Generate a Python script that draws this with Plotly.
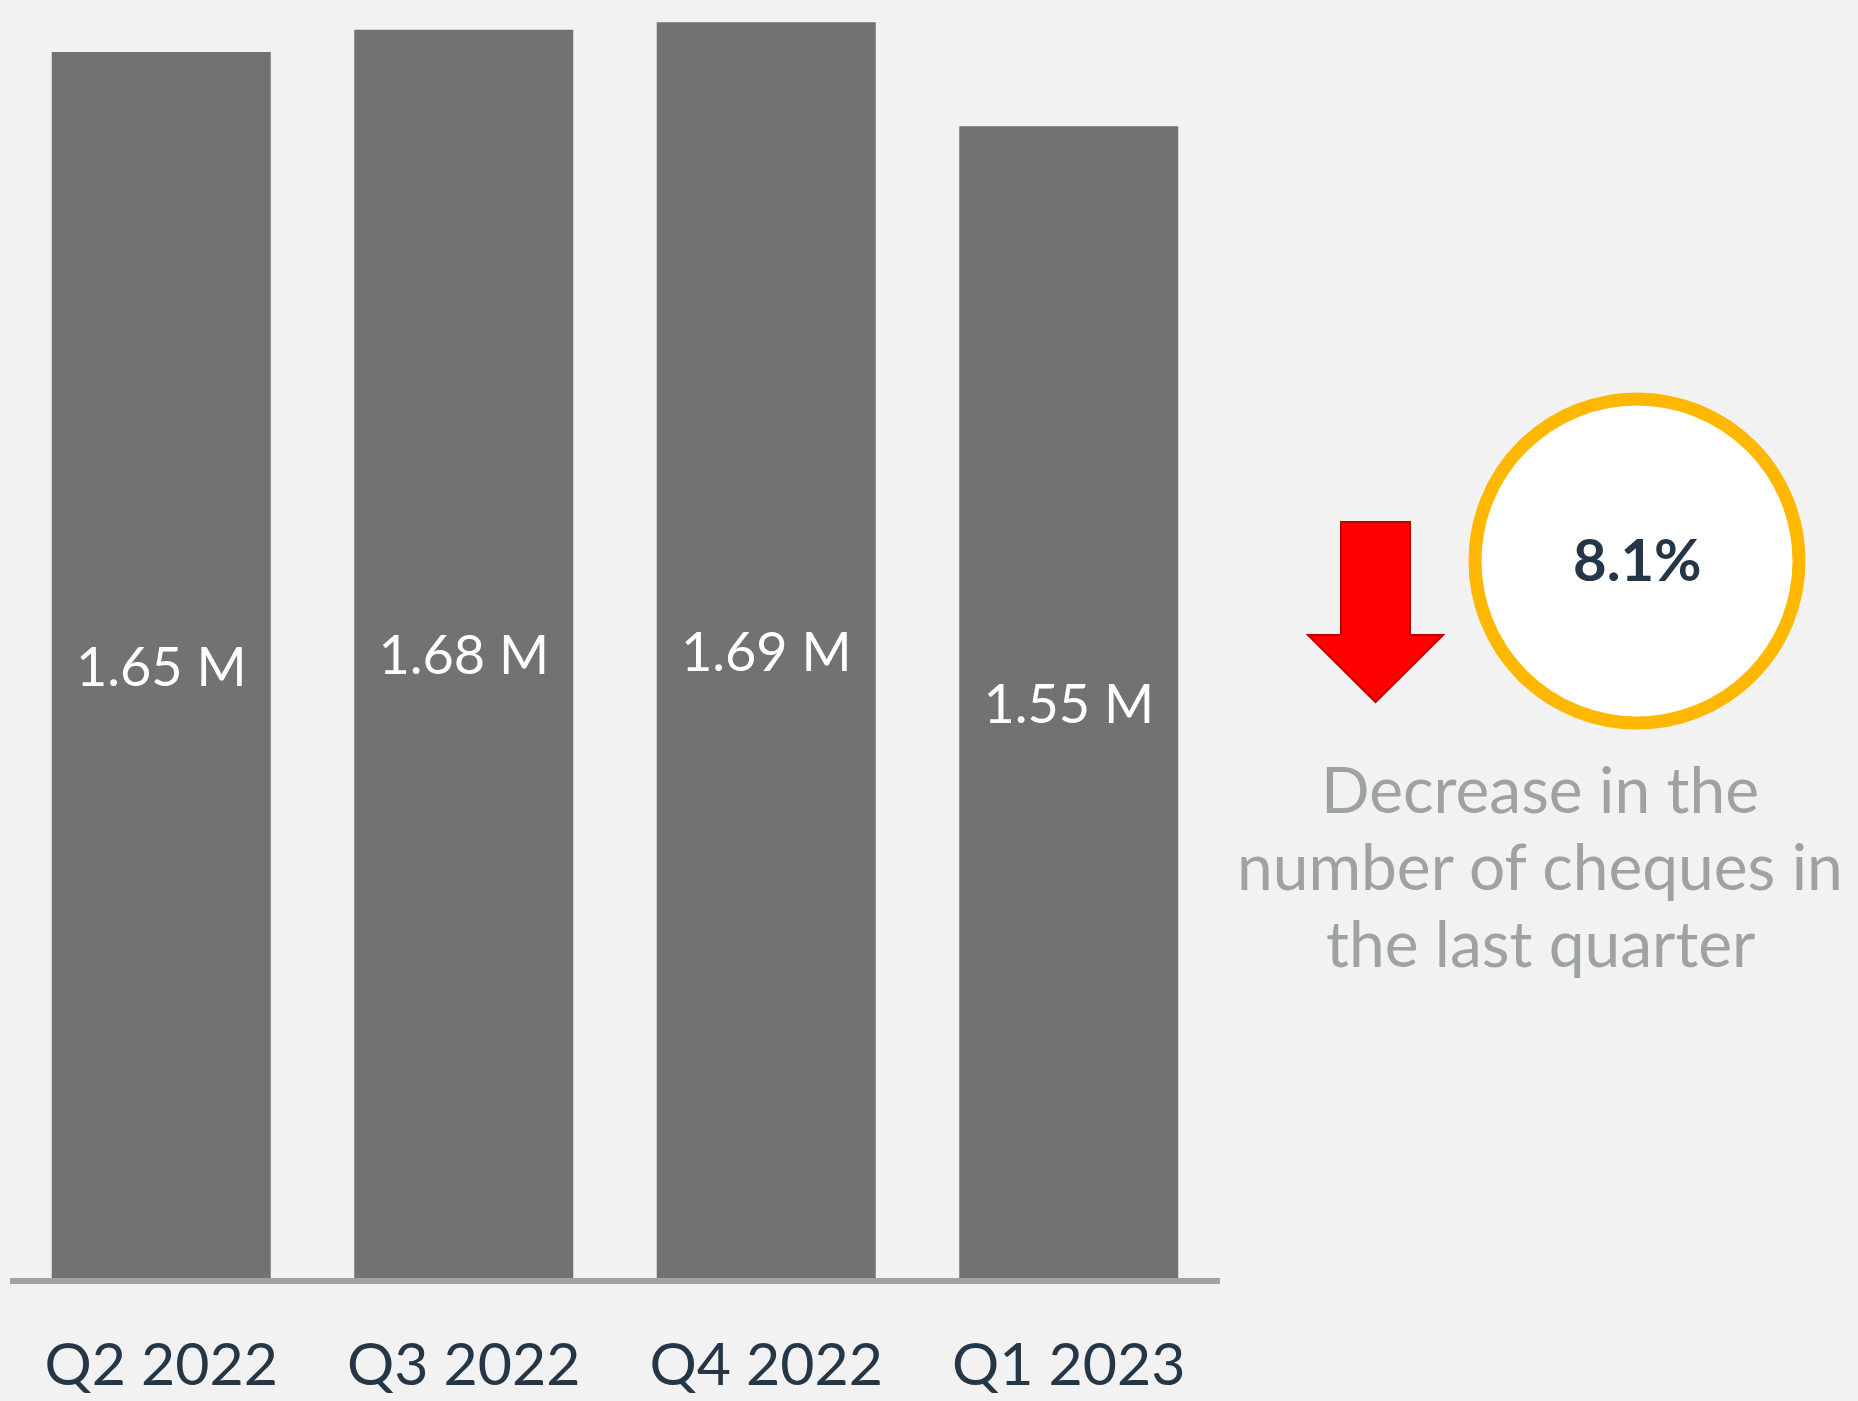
import plotly.graph_objects as go

# data
quarters = ["Q2 2022", "Q3 2022", "Q4 2022", "Q1 2023"]
cheques_m = [1.65, 1.68, 1.69, 1.55]
value_labels = ["1.65 M", "1.68 M", "1.69 M", "1.55 M"]
change_label = "8.1%"
change_lines = ["Decrease in the", "number of cheques in", "the last quarter"]

BG = "#f2f2f2"
OFF = 8  # page body margin, the figure starts 8px into the window
W, H = 1858 - OFF, 1401 - OFF
# plot area in window pixels
L, R, T, B = 10, 1220, OFF, 1278
PX_PER_M = 743

def px(x):  # window pixel -> paper x
    return (x - L) / (R - L)

def py(y):  # window pixel -> paper y
    return (B - y) / (B - T)

fig = go.Figure()
fig.add_trace(go.Bar(
    x=quarters, y=cheques_m,
    text=value_labels, textposition="inside", insidetextanchor="middle",
    textfont=dict(family="Lato", size=54, color="white"),
    marker=dict(color="#717372", line=dict(width=0)),
    hoverinfo="skip",
))

#arrow
pts = [(1341, 522), (1410, 522), (1410, 635), (1443, 635), (1375.5, 702),
       (1308, 635), (1341, 635)]
path = "M " + " L ".join(f"{px(a):.5f},{py(b):.5f}" for a, b in pts) + " Z"
fig.add_shape(type="path", path=path, xref="paper", yref="paper",
              fillcolor="#ff0000", line=dict(color="#c00000", width=2))

#circle
cx, cy, r = 1637, 561, 162
fig.add_shape(type="circle", xref="paper", yref="paper",
              x0=px(cx - r), x1=px(cx + r), y0=py(cy + r), y1=py(cy - r),
              fillcolor="white", line=dict(color="#ffb700", width=13))

fig.add_annotation(x=px(cx), y=py(558), xref="paper", yref="paper",
                   text=f"<b>{change_label}</b>", showarrow=False,
                   font=dict(family="Lato", size=58, color="#253746"),
                   xanchor="center", yanchor="middle")
for i, line in enumerate(change_lines):
    fig.add_annotation(x=px(1540), y=py(788 + 77 * i), xref="paper", yref="paper",
                       text=line, showarrow=False,
                       font=dict(family="Lato", size=64, color="#9fa2a2"),
                       xanchor="center", yanchor="middle")

fig.update_layout(
    width=W, height=H,
    margin=dict(l=L - OFF, r=1858 - R, t=T - OFF, b=1401 - B, autoexpand=False),
    paper_bgcolor=BG, plot_bgcolor=BG,
    bargap=0.276, showlegend=False,
    uniformtext=dict(minsize=10, mode="show"),
)
fig.update_xaxes(type="category", range=[-0.5, 3.5], showline=True,
                 linecolor="#a0a3a3", linewidth=6, ticks="", showgrid=False,
                 tickfont=dict(family="Lato", size=59, color="#253746"),
                 ticklabelstandoff=30)
fig.update_yaxes(visible=False, range=[0, (B - T) / PX_PER_M], showgrid=False)

fig.write_html("out.html", post_script=f"document.body.style.backgroundColor='{BG}';")
